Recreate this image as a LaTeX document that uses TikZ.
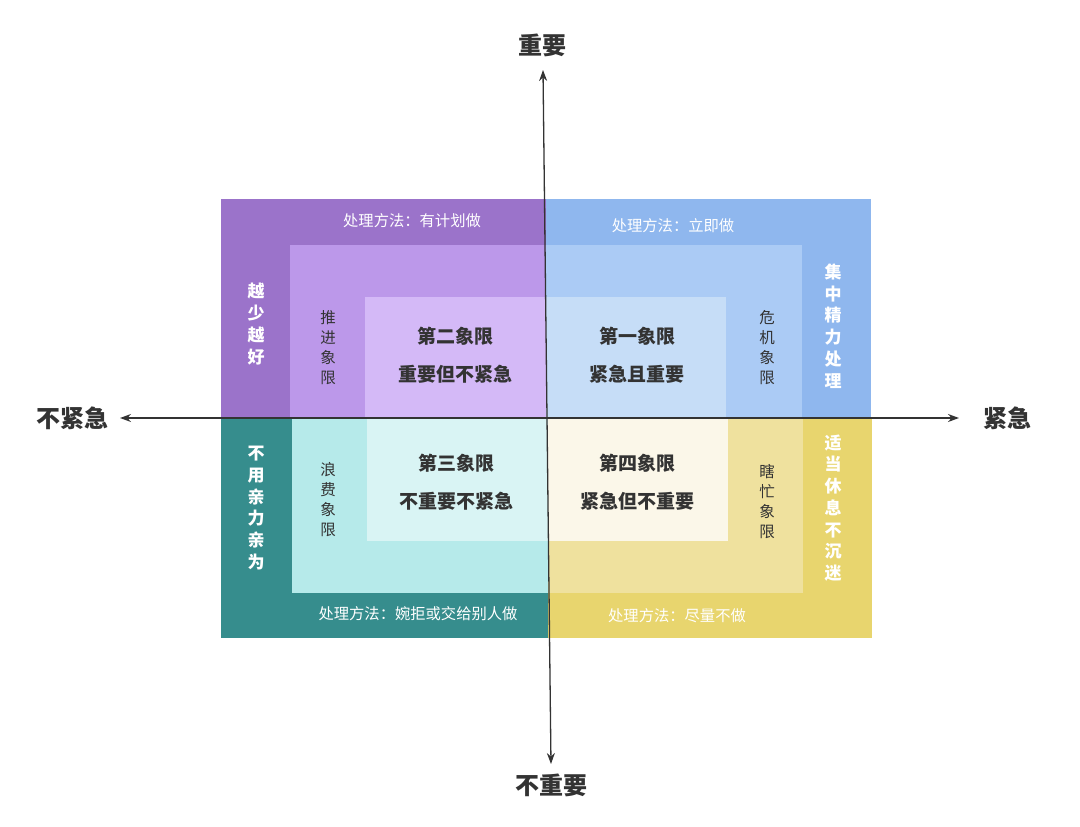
\documentclass[tikz,border=0pt]{standalone}
\usepackage{fontspec}
\newfontfamily\cjk{Noto Sans CJK SC}
\usetikzlibrary{arrows.meta}
\definecolor{pOut}{HTML}{9B73CA}
\definecolor{pMid}{HTML}{BC98EA}
\definecolor{pIn}{HTML}{D4B9F7}
\definecolor{bOut}{HTML}{8FB7EE}
\definecolor{bMid}{HTML}{ABCBF5}
\definecolor{bIn}{HTML}{C6DDF7}
\definecolor{tOut}{HTML}{368D8D}
\definecolor{tMid}{HTML}{B6EAEA}
\definecolor{tIn}{HTML}{D9F4F4}
\definecolor{yOut}{HTML}{E8D56E}
\definecolor{yMid}{HTML}{EFE19E}
\definecolor{yIn}{HTML}{FBF7E9}
\definecolor{ink}{HTML}{333333}
\tikzset{
  axislabel/.style={font=\cjk\bfseries\fontsize{24}{26}\selectfont, text=ink, inner sep=0pt},
  quadtitle/.style={font=\cjk\bfseries\fontsize{19}{38}\selectfont, text=ink, align=center, inner sep=0pt},
  method/.style={font=\cjk\fontsize{15.3}{18}\selectfont, text=white, inner sep=0pt},
  outerv/.style={font=\cjk\bfseries\fontsize{17}{21.7}\selectfont, text=white, align=center, inner sep=0pt},
  innerv/.style={font=\cjk\fontsize{15.5}{20}\selectfont, text=ink, align=center, inner sep=0pt},
  axisline/.style={draw=ink, line width=1.3pt, {Stealth[length=11pt,width=8pt]}-{Stealth[length=11pt,width=8pt]}}
}
\begin{document}
\begin{tikzpicture}[x=1pt,y=-1pt]
\useasboundingbox (0,0) rectangle (1080,827);
% top-left (purple)
\fill[pOut] (221,199) rectangle (546,418);
\fill[pMid] (290,245) rectangle (546,418);
\fill[pIn]  (365,297) rectangle (546,418);
% top-right (blue)
\fill[bOut] (546,199) rectangle (871,418);
\fill[bMid] (546,245) rectangle (802,418);
\fill[bIn]  (546,297) rectangle (726,418);
% bottom-left (teal)
\fill[tOut] (221,418) rectangle (548,638);
\fill[tMid] (292,418) rectangle (548,593);
\fill[tIn]  (367,418) rectangle (548,541);
% bottom-right (yellow)
\fill[yOut] (548,418) rectangle (872,638);
\fill[yMid] (548,418) rectangle (803,593);
\fill[yIn]  (548,418) rectangle (728,541);

% texts top-left
\node[method] (m2) at (412,221) {处理方法：有计划做};
\node[outerv] (o2) at (256,324) {越\\少\\越\\好};
\node[innerv] (i2) at (328,348) {推\\进\\象\\限};
\node[quadtitle] (q2) at (455,355) {第二象限\\重要但不紧急};
% texts top-right
\node[method] (m1) at (673,226) {处理方法：立即做};
\node[outerv] (o1) at (833,326) {集\\中\\精\\力\\处\\理};
\node[innerv] (i1) at (767,348) {危\\机\\象\\限};
\node[quadtitle] (q1) at (637,355) {第一象限\\紧急且重要};
% texts bottom-left
\node[method] (m3) at (418,614) {处理方法：婉拒或交给别人做};
\node[outerv] (o3) at (256,508) {不\\用\\亲\\力\\亲\\为};
\node[innerv] (i3) at (328,500) {浪\\费\\象\\限};
\node[quadtitle] (q3) at (456,482) {第三象限\\不重要不紧急};
% texts bottom-right
\node[method] (m4) at (677,616) {处理方法：尽量不做};
\node[outerv] (o4) at (833,508) {适\\当\\休\\息\\不\\沉\\迷};
\node[innerv] (i4) at (767,502) {瞎\\忙\\象\\限};
\node[quadtitle] (q4) at (637,482) {第四象限\\紧急但不重要};

% axes
\coordinate (vtop) at (543,70);
\coordinate (vbot) at (551,764);
\coordinate (hleft) at (120,418);
\coordinate (hright) at (959,418);
\draw[axisline] (vtop) -- (vbot);
\draw[axisline] (hleft) -- (hright);
\node[axislabel] (lt) at (542,45) {重要};
\node[axislabel] (lb) at (551,785) {不重要};
\node[axislabel] (ll) at (72,418) {不紧急};
\node[axislabel] (lr) at (1007,418) {紧急};
\end{tikzpicture}
\end{document}
